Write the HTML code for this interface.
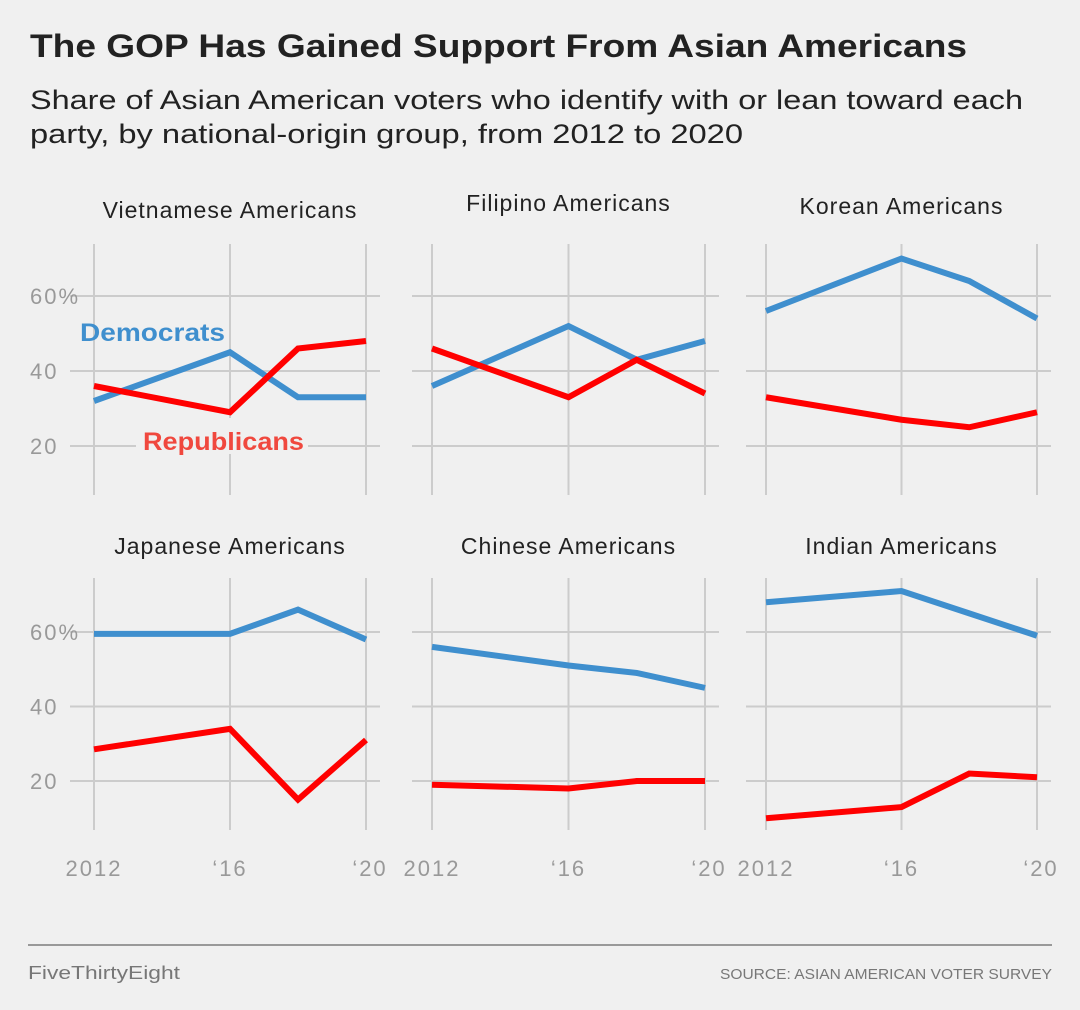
<!DOCTYPE html>
<html><head><meta charset="utf-8"><style>
body{margin:0;background:#f0f0f0;width:1080px;height:1005px;overflow:hidden;font-family:"Liberation Sans",sans-serif}
</style></head><body>
<svg width="1080" height="1005" xmlns="http://www.w3.org/2000/svg">
<rect width="1080" height="1005" fill="#f0f0f0"/>
<text x="30" y="57" font-size="32" font-weight="bold" fill="#222" textLength="937" lengthAdjust="spacingAndGlyphs">The GOP Has Gained Support From Asian Americans</text>
<text x="30" y="109" font-size="27" fill="#222" textLength="993" lengthAdjust="spacingAndGlyphs">Share of Asian American voters who identify with or lean toward each</text>
<text x="30" y="143" font-size="27" fill="#222" textLength="713" lengthAdjust="spacingAndGlyphs">party, by national-origin group, from 2012 to 2020</text>
<g id="panels"></g>
<line x1="28" y1="945" x2="1052" y2="945" stroke="#999" stroke-width="2"/>
<text x="28" y="979" font-size="18" fill="#777" textLength="152" lengthAdjust="spacingAndGlyphs">FiveThirtyEight</text>
<text x="1052" y="979" font-size="15" fill="#777" text-anchor="end" textLength="332" lengthAdjust="spacingAndGlyphs">SOURCE: ASIAN AMERICAN VOTER SURVEY</text>
</svg>
<script>
const years=[2012,2016,2018,2020];
const panelTitles=["Vietnamese Americans","Filipino Americans","Korean Americans","Japanese Americans","Chinese Americans","Indian Americans"];
const demValues=[[32,45,33,33],[36,52,43,48],[56,70,64,54],[59.5,59.5,66,58],[56,51,49,45],[68,71,65,59]];
const repValues=[[36,29,46,48],[46,33,43,34],[33,27,25,29],[28.5,34,15,31],[19,18,20,20],[10,13,22,21]];
const yTicks=[20,40,60];
const yTickLabels=["20","40","60%"];
const xTickYears=[2012,2016,2020];
const xTickLabels=["2012","\u201816","\u201820"];
const NS="http://www.w3.org/2000/svg";
const g=document.getElementById('panels');
const colX=[[94,366],[432,705],[766,1037]];
const rowY=[{y60:296,y20:446,top:244,bot:495,title:218},{y60:632,y20:781,top:578,bot:830,title:554}];
function mk(t,a){const e=document.createElementNS(NS,t);for(const k in a)e.setAttribute(k,a[k]);g.appendChild(e);return e;}
panelTitles.forEach((title,i)=>{
  const row=Math.floor(i/3);
  const c=colX[i%3],r=rowY[row];
  const xs=y=>c[0]+(y-2012)/8*(c[1]-c[0]);
  const ys=v=>r.y20+(v-20)/40*(r.y60-r.y20);
  const gl=c[0]-(i%3===0?24:20), gr=c[1]+14;
  yTicks.forEach(v=>{const l=mk('line',{x1:gl,x2:gr,y1:ys(v),y2:ys(v),stroke:'#ccc','stroke-width':2});
    
    });
  xTickYears.forEach(y=>{const l=mk('line',{x1:xs(y),x2:xs(y),y1:r.top,y2:r.bot,stroke:'#ccc','stroke-width':2});
    
    });
  if(i%3===0){yTicks.forEach((v,k)=>{const t=mk('text',{x:30,y:ys(v)+8,'font-size':22,fill:'#999','letter-spacing':'2'});t.textContent=yTickLabels[k];
    
    });}
  if(row===1){xTickYears.forEach((y,k)=>{const t=mk('text',{x:xs(y)+(k===2?4:0),y:r.bot+46,'font-size':22,fill:'#999','text-anchor':'middle','letter-spacing':'2'});t.textContent=xTickLabels[k];
    
    });}
  const tt=mk('text',{x:(c[0]+c[1])/2,y:r.title+(i===1?-7:i===2?-4:0),'font-size':23,fill:'#222','text-anchor':'middle','letter-spacing':'1'});tt.textContent=title;
  
  
  const d=mk('polyline',{points:years.map((y,k)=>xs(y)+','+ys(demValues[i][k])).join(' '),fill:'none',stroke:'#3f8fce','stroke-width':6,'stroke-linejoin':'miter'});
  
  
  const p=mk('polyline',{points:years.map((y,k)=>xs(y)+','+ys(repValues[i][k])).join(' '),fill:'none',stroke:'#ff0000','stroke-width':6,'stroke-linejoin':'miter'});
  
  
});
const bg1=mk('rect',{x:136,y:418,width:172,height:36,fill:'#f0f0f0'});


const dl=mk('text',{x:80,y:341,'font-size':25,'font-weight':'bold',fill:'#3f8fce',textLength:145,lengthAdjust:'spacingAndGlyphs'});dl.textContent='Democrats';


const rl=mk('text',{x:143,y:450,'font-size':25,'font-weight':'bold',fill:'#f0483e',textLength:161,lengthAdjust:'spacingAndGlyphs'});rl.textContent='Republicans';


</script>
</body></html>
